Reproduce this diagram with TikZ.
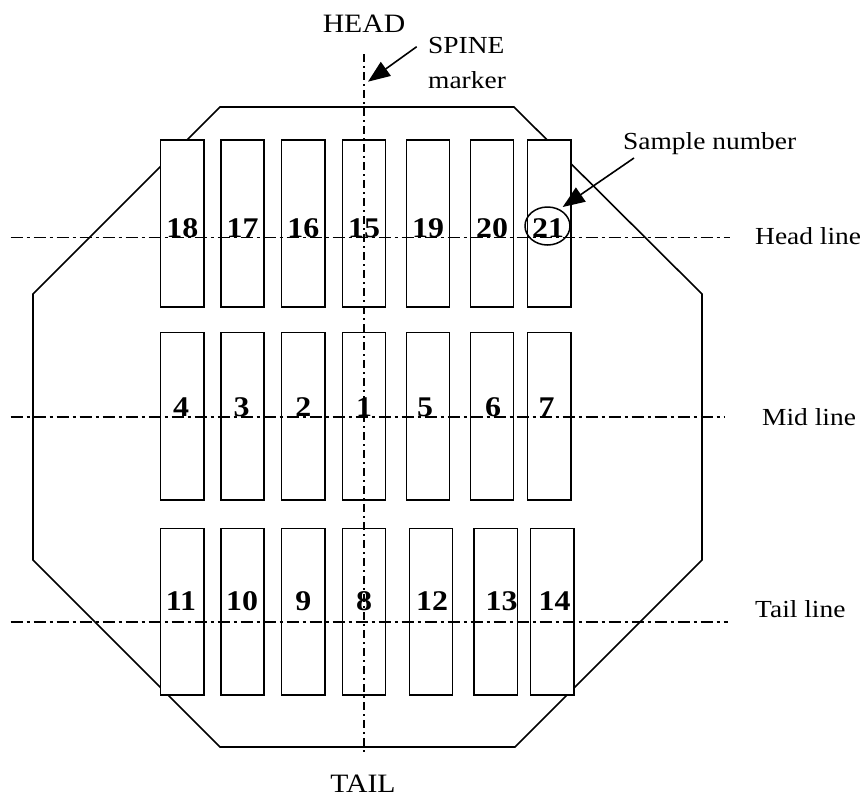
\documentclass[tikz,border=0pt]{standalone}
\usepackage{fontspec}
\setmainfont{Liberation Serif}[FakeStretch=1.12]
\usetikzlibrary{arrows.meta,shapes.geometric}
\begin{document}
\begin{tikzpicture}[x=1pt,y=-1pt,
  outline/.style={line width=1.6pt, line join=miter},
  samplebox/.style={draw, fill=white, line width=1.6pt, minimum width=43.3pt, inner sep=0},
  refline/.style={line width=1.6pt, dash pattern=on 12pt off 4pt on 3pt off 4pt},
  spineline/.style={line width=1.5pt, dash pattern=on 8pt off 4pt on 2pt off 4pt},
  num/.style={font=\fontsize{28.5}{30}\selectfont\bfseries, inner sep=0, anchor=base},
  lbl/.style={font=\fontsize{24.5}{28}\selectfont, inner sep=0, anchor=base west},
  big/.style={font=\fontsize{26.5}{30}\selectfont, inner sep=0, anchor=base},
  pointer/.style={line width=1.6pt, -{Triangle[length=22pt,width=17pt]}}]
\useasboundingbox (0,0) rectangle (865,798);

% octagon outline
\draw[outline] (220,107) -- (514,107) -- (702,294) -- (702,560) -- (515,747) -- (220,747) -- (33,560) -- (33,294) -- cycle;

% sample rectangles
\foreach \x/\n in {182.3/18,242.5/17,303.3/16,364/15,428/19,492/20,549.1/21}
  \node[samplebox, minimum height=167pt] (r\n) at (\x,223.5) {};
\foreach \x/\n in {182.3/4,242.5/3,303.3/2,364/1,428/5,492/6,549.1/7}
  \node[samplebox, minimum height=167.7pt] (r\n) at (\x,416.2) {};
\foreach \x/\n in {182.3/11,242.5/10,303.3/9,364/8,431/12,495.7/13,552.3/14}
  \node[samplebox, minimum height=166.7pt] (r\n) at (\x,611.7) {};

% reference lines
\coordinate (hlw) at (10.7,237.3); \coordinate (hle) at (730,237.3);
\coordinate (mlw) at (10.7,416.7); \coordinate (mle) at (724,416.7);
\coordinate (tlw) at (10.7,621.7); \coordinate (tle) at (728,621.7);
\coordinate (spn) at (364,54);     \coordinate (sps) at (364,752);
\draw[refline] (hlw) -- (hle);
\draw[refline] (mlw) -- (mle);
\draw[refline] (tlw) -- (tle);
\draw[spineline] (spn) -- (sps);

% sample numbers
\foreach \x/\n in {182.3/18,242.5/17,303.3/16,364/15,428/19,492/20,548/21}
  \node[num] (n\n) at (\x,237) {\n};
\foreach \x/\n in {181/4,241.5/3,303.3/2,364/1,425/5,493/6,546.5/7}
  \node[num] (n\n) at (\x,416.5) {\n};
\foreach \x/\n in {181/11,242/10,303.3/9,364/8,432/12,501.7/13,554.7/14}
  \node[num] (n\n) at (\x,610) {\n};

\node[draw, ellipse, line width=1.5pt, minimum width=45pt, minimum height=38pt, inner sep=0] (c21) at (547.5,226) {};

% labels
\node[big] (head) at (364,32) {HEAD};
\node[big] (tail) at (363,792) {TAIL};
\node[lbl] (spine) at (428,53) {SPINE};
\node[lbl] (marker) at (428,88) {marker};
\node[lbl] (samplelbl) at (623,149) {Sample number};
\node[lbl] (headlbl) at (755,244) {Head line};
\node[lbl] (midlbl) at (762,425) {Mid line};
\node[lbl] (taillbl) at (755,617) {Tail line};

% pointers
\coordinate (spinefrom) at (416.7,46.7); \coordinate (spineto) at (368,81.7);
\draw[pointer] (spinefrom) -- (spineto);
\coordinate (samplefrom) at (634,158); \coordinate (sampleto) at (562.7,207);
\draw[pointer] (samplefrom) -- (sampleto);
\end{tikzpicture}
\end{document}
